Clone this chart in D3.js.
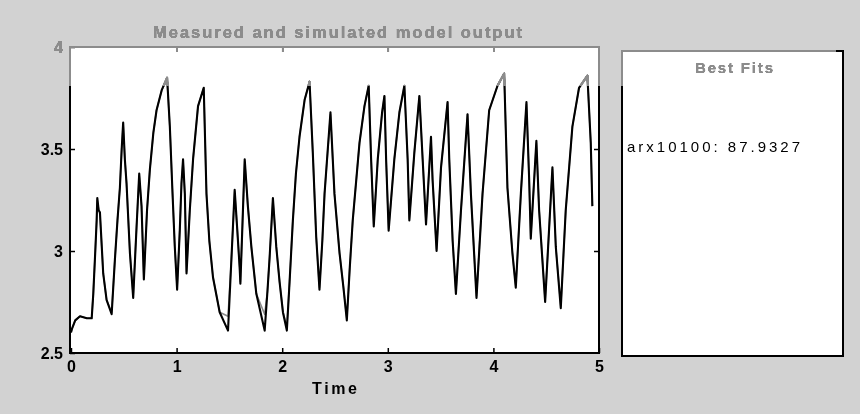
<!DOCTYPE html>
<html>
<head>
<meta charset="utf-8">
<script src="https://cdn.jsdelivr.net/npm/d3@7/dist/d3.min.js"></script>
<style>
  html, body { margin: 0; padding: 0; background: #d2d2d2; }
  svg { display: block; }
  text { font-family: "Liberation Sans", Arial, Helvetica, sans-serif; }
</style>
</head>
<body>
<svg id="chart" width="860" height="414"></svg>
<script>
// Sample times (s)
const time = [
  0.000, 0.010, 0.040, 0.085, 0.150, 0.196, 0.211, 0.230, 0.243, 0.249,
  0.262, 0.274, 0.305, 0.337, 0.385, 0.416, 0.440, 0.463, 0.480, 0.494,
  0.510, 0.526, 0.558, 0.589, 0.621, 0.646, 0.668, 0.690, 0.720, 0.747,
  0.780, 0.810, 0.860, 0.910, 0.936, 0.960, 0.983, 1.005, 1.030, 1.046,
  1.061, 1.078, 1.094, 1.125, 1.156, 1.203, 1.257, 1.283, 1.310, 1.345,
  1.408, 1.487, 1.519, 1.550, 1.575, 1.597, 1.604, 1.625, 1.645, 1.675,
  1.708, 1.755, 1.834, 1.860, 1.881, 1.912, 1.944, 1.975, 2.007, 2.044,
  2.070, 2.101, 2.130, 2.164, 2.212, 2.259, 2.290, 2.322, 2.353, 2.380,
  2.401, 2.457, 2.495, 2.543, 2.580, 2.612, 2.640, 2.668, 2.732, 2.779,
  2.819, 2.842, 2.867, 2.905, 2.946, 2.968, 2.984, 3.008, 3.062, 3.110,
  3.157, 3.188, 3.204, 3.251, 3.299, 3.330, 3.362, 3.409, 3.424, 3.462,
  3.504, 3.566, 3.582, 3.614, 3.645, 3.693, 3.755, 3.787, 3.840, 3.897,
  3.960, 4.039, 4.102, 4.133, 4.180, 4.212, 4.260, 4.313, 4.338, 4.354,
  4.407, 4.433, 4.490, 4.559, 4.591, 4.638, 4.685, 4.748, 4.811, 4.890,
  4.922, 4.937
];

// Measured output
const measured = [
  2.60, 2.62, 2.66, 2.68, 2.67, 2.67, 2.79, 3.00, 3.15, 3.26,
  3.20, 3.19, 2.89, 2.76, 2.69, 2.96, 3.15, 3.31, 3.50, 3.63,
  3.45, 3.33, 2.99, 2.77, 3.12, 3.38, 3.22, 2.86, 3.20, 3.40,
  3.58, 3.69, 3.79, 3.85, 3.61, 3.30, 3.02, 2.81, 3.10, 3.33,
  3.45, 3.28, 2.89, 3.20, 3.45, 3.71, 3.80, 3.28, 3.05, 2.87,
  2.70, 2.61, 2.96, 3.30, 3.10, 2.92, 2.84, 3.15, 3.45, 3.22,
  3.02, 2.79, 2.61, 2.80, 2.97, 3.26, 3.02, 2.85, 2.70, 2.61,
  2.85, 3.15, 3.38, 3.56, 3.74, 3.83, 3.48, 3.07, 2.81, 3.05,
  3.28, 3.68, 3.28, 2.99, 2.82, 2.66, 2.92, 3.15, 3.53, 3.71,
  3.81, 3.45, 3.12, 3.45, 3.68, 3.76, 3.45, 3.10, 3.45, 3.68,
  3.81, 3.45, 3.15, 3.48, 3.76, 3.45, 3.13, 3.56, 3.35, 3.00,
  3.41, 3.73, 3.45, 3.05, 2.79, 3.20, 3.67, 3.28, 2.77, 3.28,
  3.69, 3.81, 3.87, 3.31, 2.99, 2.82, 3.28, 3.73, 3.36, 3.06,
  3.54, 3.20, 2.75, 3.41, 3.02, 2.72, 3.20, 3.61, 3.80, 3.86,
  3.53, 3.22
];

// Simulated model output (arx10100)
const simulated = [
  2.60, 2.62, 2.66, 2.68, 2.67, 2.67, 2.79, 3.00, 3.15, 3.25,
  3.20, 3.18, 2.89, 2.76, 2.70, 2.96, 3.15, 3.31, 3.50, 3.62,
  3.45, 3.33, 2.99, 2.78, 3.12, 3.37, 3.22, 2.87, 3.20, 3.40,
  3.58, 3.69, 3.79, 3.84, 3.61, 3.30, 3.02, 2.82, 3.10, 3.33,
  3.44, 3.28, 2.90, 3.20, 3.45, 3.71, 3.80, 3.28, 3.05, 2.87,
  2.70, 2.68, 2.96, 3.29, 3.10, 2.92, 2.85, 3.15, 3.44, 3.22,
  3.02, 2.79, 2.69, 2.80, 2.97, 3.25, 3.02, 2.85, 2.70, 2.63,
  2.85, 3.15, 3.38, 3.56, 3.74, 3.83, 3.48, 3.07, 2.82, 3.05,
  3.28, 3.67, 3.28, 2.99, 2.82, 2.67, 2.92, 3.15, 3.53, 3.71,
  3.81, 3.45, 3.13, 3.45, 3.68, 3.76, 3.45, 3.11, 3.45, 3.68,
  3.81, 3.45, 3.16, 3.48, 3.76, 3.45, 3.14, 3.55, 3.35, 3.01,
  3.41, 3.73, 3.45, 3.05, 2.80, 3.20, 3.67, 3.28, 2.78, 3.28,
  3.69, 3.81, 3.87, 3.31, 2.99, 2.83, 3.28, 3.72, 3.36, 3.07,
  3.53, 3.20, 2.76, 3.40, 3.02, 2.73, 3.20, 3.61, 3.80, 3.86,
  3.53, 3.22
];

const xTicks = [0, 1, 2, 3, 4, 5];
const yTicks = [2.5, 3, 3.5, 4];
const yTickLabels = ["2.5", "3", "3.5", "4"];

const titleText = "Measured and simulated model output";
const xLabelText = "Time";
const fitsTitle = "Best Fits";
const fitsEntry = "arx10100: 87.9327";

const svg = d3.select("#chart");
const W = 860, H = 414;

// page background
svg.append("rect").attr("width", W).attr("height", H).attr("fill", "#d2d2d2");

// axes box
const box = { left: 70, right: 599, top: 47, bottom: 353 };
const x = d3.scaleLinear().domain([0, 5]).range([71, 599]);
const y = d3.scaleLinear().domain([2.5, 4]).range([353, 47]);

svg.append("rect")
  .attr("x", box.left).attr("y", box.top)
  .attr("width", box.right - box.left).attr("height", box.bottom - box.top)
  .attr("fill", "#ffffff");

svg.append("clipPath").attr("id", "plotclip")
  .append("rect")
  .attr("x", box.left).attr("y", box.top)
  .attr("width", box.right - box.left).attr("height", box.bottom - box.top);

const line = d3.line().x((d, i) => x(time[i])).y(d => y(d));

const plot = svg.append("g").attr("clip-path", "url(#plotclip)");
plot.append("path").datum(simulated)
  .attr("d", line).attr("fill", "none")
  .attr("stroke", "#8a8a8a").attr("stroke-width", 1.6)
  .attr("stroke-linejoin", "round");
plot.append("path").datum(measured)
  .attr("d", line).attr("fill", "none")
  .attr("stroke", "#000000").attr("stroke-width", 2.1)
  .attr("stroke-linejoin", "round");

// inward ticks on all four sides
const tickFont = g => g.selectAll("text")
  .attr("font-size", 16).attr("font-weight", "bold").attr("fill", "#000");

const gx = svg.append("g").attr("transform", `translate(0,${box.bottom})`)
  .call(d3.axisBottom(x).tickValues(xTicks).tickSize(-5).tickPadding(8)
    .tickFormat(d3.format("d")));
gx.select(".domain").remove();
gx.selectAll("line").attr("stroke", "#000").attr("stroke-width", 1.5);
tickFont(gx);

const gxTop = svg.append("g").attr("transform", `translate(0,${box.top})`)
  .call(d3.axisTop(x).tickValues(xTicks.slice(1, -1)).tickSize(-5).tickFormat(""));
gxTop.select(".domain").remove();
gxTop.selectAll("line").attr("stroke", "#000").attr("stroke-width", 1.5);

const gy = svg.append("g").attr("transform", `translate(${box.left},0)`)
  .call(d3.axisLeft(y).tickValues(yTicks).tickSize(-5).tickPadding(7)
    .tickFormat((d, i) => yTickLabels[i]));
gy.select(".domain").remove();
gy.selectAll("line").attr("stroke", "#000").attr("stroke-width", 1.5);
tickFont(gy);

const gyRight = svg.append("g").attr("transform", `translate(${box.right},0)`)
  .call(d3.axisRight(y).tickValues(yTicks.slice(1, -1)).tickSize(-5).tickFormat(""));
gyRight.select(".domain").remove();
gyRight.selectAll("line").attr("stroke", "#000").attr("stroke-width", 1.5);

// frame
svg.append("rect")
  .attr("x", box.left).attr("y", box.top)
  .attr("width", box.right - box.left).attr("height", box.bottom - box.top)
  .attr("fill", "none").attr("stroke", "#000").attr("stroke-width", 2);

// title and axis label
svg.append("text")
  .attr("x", 153).attr("y", 38)
  .attr("textLength", 369).attr("lengthAdjust", "spacing")
  .attr("font-size", 16.5).attr("font-weight", "bold").attr("fill", "#000")
  .text(titleText);

svg.append("text")
  .attr("x", 312).attr("y", 394)
  .attr("textLength", 45).attr("lengthAdjust", "spacing")
  .attr("font-size", 16).attr("font-weight", "bold").attr("fill", "#000")
  .text(xLabelText);

// Best Fits panel
const fits = { left: 622, right: 843, top: 51, bottom: 356 };
svg.append("rect")
  .attr("x", fits.left).attr("y", fits.top)
  .attr("width", fits.right - fits.left).attr("height", fits.bottom - fits.top)
  .attr("fill", "#ffffff").attr("stroke", "#000").attr("stroke-width", 2);

svg.append("text")
  .attr("x", 695).attr("y", 73)
  .attr("textLength", 78).attr("lengthAdjust", "spacing")
  .attr("font-size", 15).attr("font-weight", "bold").attr("fill", "#000")
  .text(fitsTitle);

svg.append("text")
  .attr("x", 627).attr("y", 152)
  .attr("textLength", 173).attr("lengthAdjust", "spacing")
  .attr("font-size", 15).attr("fill", "#000")
  .text(fitsEntry);

// faded upper band of the figure
svg.append("rect")
  .attr("x", 0).attr("y", 0).attr("width", 836).attr("height", 86)
  .attr("fill", "#8c8c8c")
  .style("mix-blend-mode", "lighten");
</script>
</body>
</html>
